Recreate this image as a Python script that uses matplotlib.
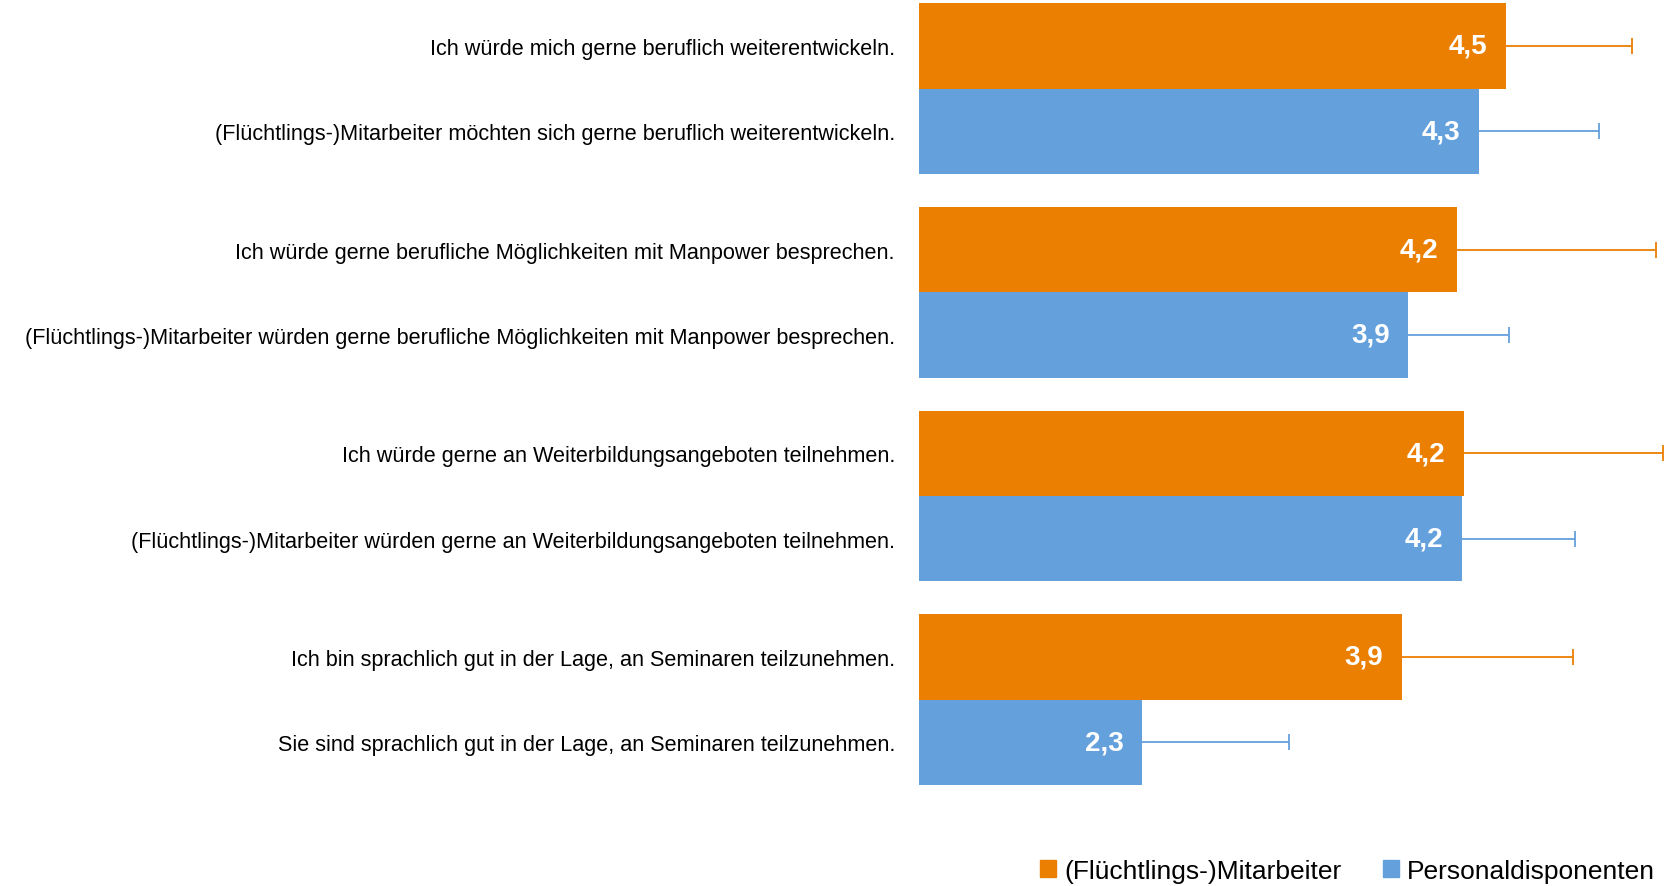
import numpy as np
import matplotlib.pyplot as plt
from matplotlib.patches import Patch

plt.rcParams['font.family'] = ['Liberation Sans', 'DejaVu Sans']

# Aussagen (je Gruppe: Mitarbeiter-Sicht oben, Disponenten-Sicht unten)
labels_ma = [
    "Ich würde mich gerne beruflich weiterentwickeln.",
    "Ich würde gerne berufliche Möglichkeiten mit Manpower besprechen.",
    "Ich würde gerne an Weiterbildungsangeboten teilnehmen.",
    "Ich bin sprachlich gut in der Lage, an Seminaren teilzunehmen.",
]
labels_pd = [
    "(Flüchtlings-)Mitarbeiter möchten sich gerne beruflich weiterentwickeln.",
    "(Flüchtlings-)Mitarbeiter würden gerne berufliche Möglichkeiten mit Manpower besprechen.",
    "(Flüchtlings-)Mitarbeiter würden gerne an Weiterbildungsangeboten teilnehmen.",
    "Sie sind sprachlich gut in der Lage, an Seminaren teilzunehmen.",
]

# Mittelwerte (Skala 1-5) und Standardabweichungen
mittel_ma = [4.49, 4.20, 4.24, 3.87]
mittel_pd = [4.33, 3.91, 4.23, 2.33]
sd_ma = [0.75, 1.18, 1.18, 1.02]
sd_pd = [0.71, 0.60, 0.67, 0.87]

legende = ["(Flüchtlings-)Mitarbeiter", "Personaldisponenten"]

c_orange = '#EA7F02'
c_blau = '#64A0DC'

fig = plt.figure(figsize=(16.71, 8.87), dpi=100)
ax = fig.add_axes([0.5497, 0.1046, 0.4503, 0.8954])

n = len(labels_ma)
gruppe = np.arange(n)
h = 0.419
y_ma = gruppe - h / 2
y_pd = gruppe + h / 2

ax.barh(y_ma, mittel_ma, height=h, color=c_orange)
ax.barh(y_pd, mittel_pd, height=h, color=c_blau)

# Fehlerbalken nur nach rechts, Endstrich nur am Ende
for yy, m, sd, c in [(y_ma, mittel_ma, sd_ma, c_orange), (y_pd, mittel_pd, sd_pd, c_blau)]:
    ende = np.array(m) + np.array(sd)
    ax.hlines(yy, m, ende, color=c, linewidth=1.3)
    ax.plot(ende, yy, linestyle='none', marker='|', markersize=12,
            markeredgewidth=1.3, color=c, clip_on=False)

# Werte in die Balken schreiben
for y, v in zip(list(y_ma) + list(y_pd), mittel_ma + mittel_pd):
    ax.text(v - 0.11, y, f"{v:.1f}".replace('.', ','), ha='right', va='center',
            color='white', fontweight='bold', fontsize=20)

ax.set_xlim(1, 5.47)
ax.set_ylim(3.46, -0.44)

ax.set_yticks(list(y_ma) + list(y_pd))
ax.set_yticklabels(labels_ma + labels_pd, fontsize=15.6)
ax.tick_params(axis='y', length=0, pad=17)
ax.set_xticks([])
for s in ax.spines.values():
    s.set_visible(False)

handles = [Patch(color=c_orange), Patch(color=c_blau)]
fig.legend(handles, legende, loc='lower right', bbox_to_anchor=(1.0, -0.014),
           ncol=2, frameon=False, fontsize=19, handlelength=0.6, handleheight=0.6,
           handletextpad=0.3, columnspacing=1.6, borderaxespad=0.2)

fig.savefig('out.png', dpi=100)
